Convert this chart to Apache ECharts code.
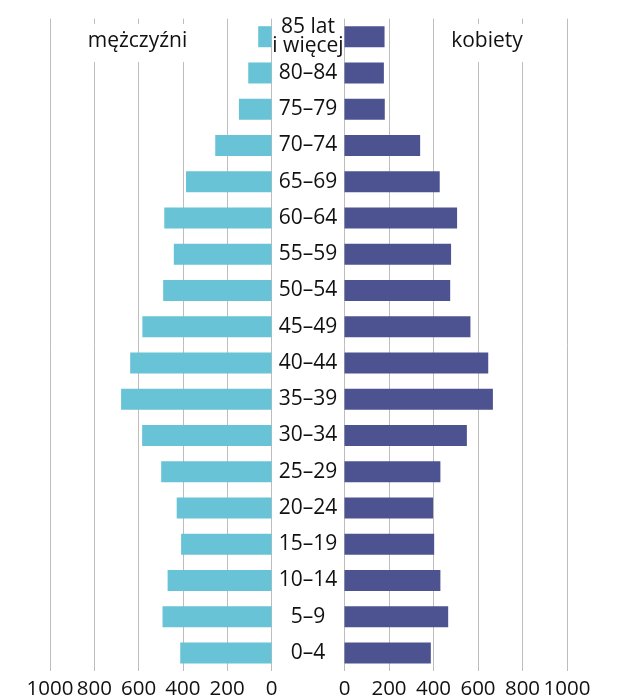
<!DOCTYPE html>
<html>
<head>
<meta charset="utf-8">
<script src="https://cdn.jsdelivr.net/npm/echarts@6/dist/echarts.min.js"></script>
<style>
html,body{margin:0;padding:0;background:#fff;}
#c{width:620px;height:700px;}
</style>
</head>
<body>
<div id="c"></div>
<script>
const categories = ['0–4','5–9','10–14','15–19','20–24','25–29','30–34','35–39','40–44','45–49','50–54','55–59','60–64','65–69','70–74','75–79','80–84','85 lat\ni więcej'];
const men   = [412, 492, 469, 408, 428, 498, 584, 679, 638, 583, 489, 441, 484, 386, 254, 147, 105, 60];
const women = [388, 466, 431, 403, 398, 431, 550, 667, 646, 566, 475, 479, 506, 428, 340, 181, 177, 180];
const xTicks = [0, 200, 400, 600, 800, 1000];
const menLabel = 'mężczyźni';
const womenLabel = 'kobiety';

const FONT = '"Open Sans", "Noto Sans", sans-serif';
const TXT = '#111111';
const GRID = '#bdbdbd';

const chart = echarts.init(document.getElementById('c'), null, {renderer: 'canvas'});

function valueAxis(gridIndex, inverse) {
  return {
    type: 'value', gridIndex: gridIndex, inverse: inverse,
    min: xTicks[0], max: xTicks[xTicks.length - 1], interval: xTicks[1] - xTicks[0],
    axisLine: {show: false}, axisTick: {show: false},
    splitLine: {show: true, lineStyle: {color: GRID, width: 1}},
    axisLabel: {color: TXT, fontFamily: FONT, fontSize: 20.5, margin: 8,
                showMinLabel: true, showMaxLabel: true, hideOverlap: false,
                formatter: function (v) { return String(v); }}
  };
}

chart.setOption({
  animation: false,
  grid: [
    {left: 50, right: 348.5, top: 18.6, bottom: 28.7},
    {left: 344.5, right: 53, top: 18.6, bottom: 28.7}
  ],
  xAxis: [valueAxis(0, true), valueAxis(1, false)],
  yAxis: [
    {
      type: 'category', gridIndex: 0, data: categories, position: 'right',
      axisLine: {show: false}, axisTick: {show: false},
      axisLabel: {color: TXT, fontFamily: FONT, fontSize: 21, lineHeight: 19, align: 'center', margin: 36.5, interval: 0}
    },
    {
      type: 'category', gridIndex: 1, data: categories,
      axisLine: {show: false}, axisTick: {show: false}, axisLabel: {show: false}
    }
  ],
  series: [
    {type: 'bar', xAxisIndex: 0, yAxisIndex: 0, data: men, barWidth: 21,
     itemStyle: {color: '#68c3d6'}},
    {type: 'bar', xAxisIndex: 1, yAxisIndex: 1, data: women, barWidth: 21,
     itemStyle: {color: '#4d5391'}}
  ],
  graphic: [
    {type: 'rect', z: 100, shape: {x: 84, y: 24, width: 108, height: 38}, style: {fill: '#fff'}},
    {type: 'text', z: 101, x: 137.5, y: 41, style: {text: menLabel, fill: TXT, font: '21px ' + FONT, align: 'center', verticalAlign: 'middle'}},
    {type: 'rect', z: 100, shape: {x: 441, y: 24, width: 92, height: 38}, style: {fill: '#fff'}},
    {type: 'text', z: 101, x: 487, y: 41, style: {text: womenLabel, fill: TXT, font: '21px ' + FONT, align: 'center', verticalAlign: 'middle'}}
  ]
});
</script>
</body>
</html>
